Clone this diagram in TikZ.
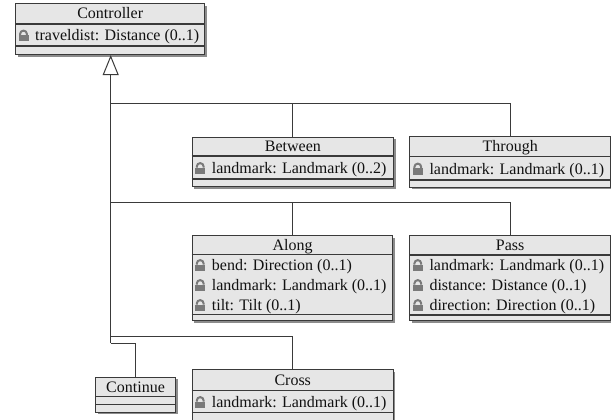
\documentclass[tikz,border=0pt]{standalone}
\usepackage{fontspec}
\setmainfont{Liberation Serif}
\usetikzlibrary{arrows.meta,shadows,calc}
\definecolor{boxfill}{HTML}{E6E6E6}
\definecolor{boxline}{HTML}{3A3A3A}
\definecolor{lockc}{HTML}{7A7A7A}
\definecolor{shadowc}{HTML}{8C8C8C}
\definecolor{txt}{HTML}{111111}
\tikzset{
  classbox/.style={draw=boxline, line width=1.1pt, fill=boxfill, inner sep=0pt, anchor=north west,
    drop shadow={shadow xshift=2pt, shadow yshift=-2pt, fill=shadowc, opacity=1}},
  sep/.style={draw=boxline, line width=1.1pt},
  conn/.style={draw=boxline, line width=1pt},
  titletext/.style={font=\fontsize{16}{19}\selectfont, text=txt, anchor=base, inner sep=0pt},
  attrtext/.style={font=\fontsize{16}{19}\selectfont, text=txt, anchor=base west, inner sep=0pt},
  lockicon/.pic={
    \fill[lockc] (0,0.5) rectangle (10,-6);
    \draw[lockc, line width=2pt] (1.6,-6) -- (1.6,-7) arc[start angle=180, end angle=0, radius=3.4pt] -- (8.4,-6);
  }
}
\newcommand\hsep[2]{\draw[sep] (#1.west |- 0,#2) -- (#1.east |- 0,#2);}
\newcommand\attr[4]{%
  \pic at ($(#1.west |- 0,#3)+(3.5,0)$) {lockicon};
  \node[attrtext] (#2) at ($(#1.west |- 0,#3)+(20,0)$) {#4};}
\begin{document}
\begin{tikzpicture}[x=1pt, y=-1pt]
\path[fill=white, use as bounding box] (0,0) rectangle (611,420);

% Controller
\node[classbox, minimum width=189.3pt, minimum height=51pt] (controller) at (15,3) {};
\hsep{controller}{24}\hsep{controller}{46}
\node[titletext] (controllert) at (controller.north |- 0,19) {Controller};
\attr{controller}{controllera}{41}{traveldist: Distance (0..1)}

% Between
\node[classbox, minimum width=201.3pt, minimum height=49.5pt] (between) at (191.7,136.5) {};
\hsep{between}{156}\hsep{between}{179}
\node[titletext] (betweent) at (between.north |- 0,151.5) {Between};
\attr{between}{betweena}{173.5}{landmark: Landmark (0..2)}

% Through
\node[classbox, minimum width=200.7pt, minimum height=51pt] (through) at (409.3,135.5) {};
\hsep{through}{156.5}\hsep{through}{180}
\node[titletext] (throught) at (through.north |- 0,151.5) {Through};
\attr{through}{througha}{174}{landmark: Landmark (0..1)}

% Along
\node[classbox, minimum width=200.6pt, minimum height=85pt] (along) at (191.7,235) {};
\hsep{along}{254.5}\hsep{along}{314.5}
\node[titletext] (alongt) at (along.north |- 0,250) {Along};
\attr{along}{alonga}{270.5}{bend: Direction (0..1)}
\attr{along}{alongb}{290.5}{landmark: Landmark (0..1)}
\attr{along}{alongc}{310.5}{tilt: Tilt (0..1)}

% Pass
\node[classbox, minimum width=200.7pt, minimum height=85pt] (pass) at (409.3,235) {};
\hsep{pass}{255}\hsep{pass}{315}
\node[titletext] (passt) at (pass.north |- 0,250) {Pass};
\attr{pass}{passa}{270.5}{landmark: Landmark (0..1)}
\attr{pass}{passb}{290.5}{distance: Distance (0..1)}
\attr{pass}{passc}{310.5}{direction: Direction (0..1)}

% Continue
\node[classbox, minimum width=80pt, minimum height=35pt] (continue) at (95,376.7) {};
\hsep{continue}{396.7}\hsep{continue}{404.3}
\node[titletext] (continuet) at (continue.north |- 0,392) {Continue};

% Cross
\node[classbox, minimum width=201pt, minimum height=60pt] (cross) at (191.7,369.3) {};
\hsep{cross}{390.7}\hsep{cross}{412.3}
\node[titletext] (crosst) at (cross.north |- 0,385.3) {Cross};
\attr{cross}{crossa}{407.5}{landmark: Landmark (0..1)}

% Connectors
\coordinate (j1) at (110.7,103.3);
\coordinate (j2) at (110.7,202.7);
\coordinate (j3) at (110.7,336.7);
\coordinate (j4) at (110.7,343.3);
\coordinate (top) at (controller.south -| j1);
\draw[conn] (between.north) -- (between.north |- j1);
\draw[conn] (through.north) |- (j1);
\draw[conn] (along.north) -- (along.north |- j2);
\draw[conn] (pass.north) |- (j2);
\draw[conn] (cross.north) |- (j3);
\draw[conn] (continue.north) |- (j4);
\draw[conn, -{Triangle[open, length=20pt, width=16pt, line width=1pt]}] (j4) -- (top);
\end{tikzpicture}
\end{document}
